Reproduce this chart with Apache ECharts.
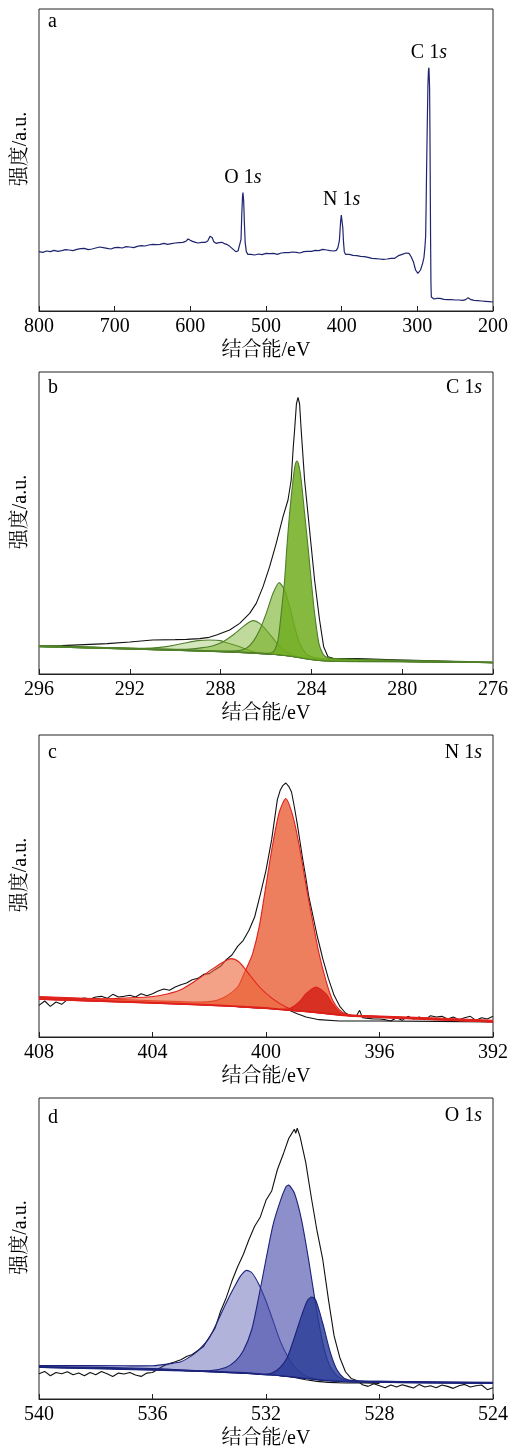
<!DOCTYPE html>
<html>
<head>
<meta charset="utf-8">
<script src="https://cdn.jsdelivr.net/npm/echarts/dist/echarts.min.js"></script>
<style>html,body{margin:0;padding:0;background:#fff;}#main{width:511px;height:1450px;}</style>
</head>
<body>
<div id="main"></div>
<script>
// ---------- DATA (intensity in arbitrary units, 0..906 spans the plot height) ----------
const xTicksA = [800, 200, 100];   // max, min, interval
const xTicksB = [296, 276, 4];
const xTicksC = [408, 392, 4];
const xTicksD = [540, 524, 4];

const surveyA = [
[800,178],[795,176],[790,180],[785,178],[780,182],[775,179],[770,181],[765,184],[760,183],[755,181],[750,185],[745,187],[740,188],[735,184],[730,186],[725,189],[720,192],[715,190],[710,188],[705,186],[700,190],[695,191],[690,189],[685,193],[680,192],[675,190],[670,194],[665,196],[660,195],[655,198],[650,200],[645,199],[640,200],[635,203],[630,200],[625,202],[620,204],[615,205],[610,206],[606,209],[603,216],[600,212],[597,209],[593,206],[590,204],[585,206],[580,206],[577,210],[574,224],[573,230],[571,220],[569,208],[566,203],[562,205],[558,206],[555,202],[552,200],[549,196],[546,190],[543,184],[540,178],[537,180],[535,186],[533,215],[532,290],[531,345],[530.5,355],[529.5,330],[528.5,260],[527.5,205],[526,178],[524,170],[520,170],[515,168],[510,171],[505,169],[500,173],[495,172],[490,173],[485,170],[480,174],[475,175],[470,175],[465,177],[460,176],[455,174],[450,178],[445,179],[440,179],[435,182],[430,181],[425,185],[420,183],[415,181],[410,180],[407,182],[405,190],[403,212],[401.5,265],[400.5,288],[400,290],[399.5,282],[398.5,250],[397.5,205],[396.5,178],[395,170],[390,170],[385,167],[380,166],[375,164],[370,163],[365,161],[360,158],[355,157],[350,156],[345,155],[340,156],[335,158],[330,158],[325,166],[320,170],[315,174],[311,173],[308,162],[305,146],[302.3,123],[299.3,113],[295.8,123],[293,143],[291.3,160],[290,190],[289,225],[288.3,330],[287.8,418],[287,540],[286,678],[285.3,722],[284.7,730],[284.2,700],[283.8,668],[283.4,560],[283,418],[282.5,218],[282,80],[281.5,42],[281,38],[278,36],[274,38],[270,38],[265,35],[260,34],[255,34],[250,33],[245,33],[240,32],[236,34],[233,40],[231,41],[229,34],[225,32],[220,31],[215,30],[210,29],[205,28],[200,27]
];
const surveyLabels = [['O 1','s',530.5,355],['N 1','s',400,290],['C 1','s',284.7,730]];

// C 1s: raw envelope [E, I]; components [E, top, base]
const c1sRaw = [
[296,83],[295,85],[294,88],[293,91],[292,96],[291,102],[290,103],[289.5,104],[288.92,106],[288.5,110],[288.18,117],[287.6,132],[287.16,152],[286.72,182],[286.43,212],[286.13,262],[285.84,322],[285.55,392],[285.25,472],[285.03,522],[284.89,582],[284.8,680],[284.74,732],[284.66,810],[284.59,830],[284.52,810],[284.45,732],[284.3,582],[284.08,432],[283.86,282],[283.64,162],[283.46,82],[283.27,52],[283.05,47],[282,46],[281,44],[280,42],[279,40],[278,38],[277,36],[276,34]
];
const c1sPeak1 = [
[296,84,82],[292,77,75],[291.04,78,73],[290.31,83,71.5],[289.58,93,70],[289,100,69],[288.48,102,68],[288,100,67],[287.74,94,66],[287.16,82,64.5],[286.57,67,62.5],[285.99,61,60],[285.5,59,58],[284.6,51,50.5],[283,39,38],[280,37.5,37],[276,34,34]
];
const c1sPeak2 = [
[296,84,82],[291,75,73],[289.5,74,70],[288.8,79,68.5],[288.33,85,67.5],[287.89,97,66.5],[287.45,117,65],[287.01,142,64],[286.75,155,63],[286.57,160,62.5],[286.28,152,61],[285.99,132,60],[285.69,107,59],[285.4,82,57],[285.11,67,55],[284.67,53,50.5],[284.3,48,46],[283.8,44,41.5],[283,41,38],[280,38,37],[276,34.5,34]
];
const c1sPeak3 = [
[296,85,82],[290,73,71],[288,69,67],[287.2,70,64.5],[286.87,77,63.5],[286.57,97,62.5],[286.28,132,61],[285.99,182,60],[285.69,242,59],[285.43,274,57.5],[285.18,252,55.5],[284.96,202,54],[284.74,142,51.5],[284.52,92,49],[284.23,60,46],[283.93,50,42.5],[283.6,46,40],[283,43,38],[280,39,37],[276,35,34]
];
const c1sPeak4 = [
[296,85,82],[290,73,71],[287,66,64],[286,62,60],[285.75,64,59],[285.62,72,58.5],[285.47,102,57.5],[285.33,182,56.5],[285.18,282,55.5],[285.08,382,55],[284.96,482,54],[284.81,582,52],[284.72,625,51],[284.64,639,50.5],[284.55,625,49.5],[284.45,582,48],[284.3,482,46],[284.15,382,44.5],[284.01,282,43],[283.86,182,42],[283.67,92,40.5],[283.49,60,39.5],[283.35,51,39],[283.1,47,38.5],[282,44,37.5],[280,41,37],[276,36,34]
];

// N 1s
const n1sRaw = [
[408,95],[407.8,108],[407.6,92],[407.4,105],[407.2,98],[407,112],[406.8,110],[406.6,114],[406.4,117],[406.2,114],[406,120],[405.8,122],[405.6,116],[405.4,128],[405.2,120],[405,122],[404.8,125],[404.6,120],[404.4,130],[404.2,124],[404,130],[403.8,138],[403.6,144],[403.4,140],[403.2,150],[403,157],[402.8,162],[402.6,172],[402.4,176],[402.2,188],[402,190],[401.8,202],[401.6,212],[401.4,232],[401.2,246],[401,272],[400.8,290],[400.6,320],[400.4,360],[400.2,428],[400,500],[399.8,592],[399.6,712],[399.5,740],[399.4,755],[399.3,762],[399.2,752],[399.1,735],[399,690],[398.9,640],[398.8,585],[398.7,530],[398.6,480],[398.5,425],[398.4,385],[398.3,345],[398.2,305],[398.1,270],[398,235],[397.8,175],[397.6,125],[397.4,92],[397.2,72],[397,62],[396.8,65],[396.7,80],[396.6,58],[396.4,56],[396.2,54],[396,54],[395.8,52],[395.6,48],[395.4,58],[395.2,50],[395,62],[394.8,54],[394.6,60],[394.4,52],[394.2,64],[394,60],[393.8,62],[393.6,54],[393.4,60],[393.2,52],[393,58],[392.8,62],[392.6,50],[392.4,58],[392.2,54],[392,62]
];
const n1sBackground = [
[401,91],[400,86],[399.5,84],[399.18,80],[398.9,70],[398.59,60],[398.13,52],[397.42,48],[396.72,48],[396,48],[394,47],[392,45]
];
const n1sPeak1 = [
[408,121,113],[405,112,105],[403,106,99],[402,106,95],[401.5,118,93],[401,150,91],[400.8,185,89.5],[400.64,215,88.5],[400.47,250,87.5],[400.23,335,86.5],[400,455,86],[399.77,575,84],[399.53,675,82],[399.3,715,81],[399.06,665,79],[398.83,575,77.5],[398.59,455,76],[398.36,350,74],[398.13,250,72.5],[397.89,170,70],[397.66,112,68],[397.42,82,66],[397.19,69,64.5],[396.8,65,62],[396,63,59],[394,57,52],[392,50,45]
];
const n1sPeak2 = [
[408,119,113],[406,114,107],[405.21,116,105],[404.16,120,102],[403.69,125,100.5],[403.05,140,98],[402.46,170,96.5],[401.87,205,94],[401.5,225,93],[401.23,235,92],[400.95,225,90.5],[400.7,200,89],[400.23,150,86.5],[399.77,115,84],[399.3,90,81],[398.95,79,78],[398.5,77,75],[397,65,62],[392,48,45]
];
const n1sPeak3 = [
[408,117,113],[402,97,95],[400,88,86],[399.5,84,82],[399.18,85,80],[398.83,105,77.5],[398.59,130,76],[398.24,150,73],[397.89,130,70],[397.66,100,68],[397.42,76,66],[397.19,67,64.5],[396.8,64,62],[396,61,59],[392,47,45]
];

// O 1s
const o1sRaw = [
[540,76],[539.8,83],[539.6,70],[539.4,80],[539.2,76],[539,82],[538.8,73],[538.6,78],[538.4,70],[538.2,80],[538,73],[537.8,83],[537.6,76],[537.4,68],[537.2,78],[537,75],[536.8,80],[536.6,72],[536.4,68],[536.2,78],[536,80],[535.8,90],[535.6,100],[535.4,107],[535.2,112],[535,118],[534.8,128],[534.6,134],[534.4,146],[534.2,158],[534,186],[533.8,212],[533.6,264],[533.4,305],[533.2,355],[533,398],[532.8,435],[532.6,480],[532.4,520],[532.2,548],[532,598],[531.8,626],[531.6,690],[531.4,735],[531.2,784],[531.1,798],[531,812],[530.95,800],[530.9,815],[530.8,790],[530.6,712],[530.4,605],[530.2,505],[530,420],[529.8,300],[529.6,190],[529.4,125],[529.2,82],[529,62],[528.8,56],[528.6,43],[528.4,38],[528.2,46],[528,40],[527.8,34],[527.6,42],[527.4,36],[527.2,43],[527,38],[526.8,33],[526.6,44],[526.4,36],[526.2,40],[526,34],[525.8,42],[525.6,38],[525.4,32],[525.2,40],[525,44],[524.8,36],[524.6,40],[524.4,42],[524.2,28],[524,34]
];
const o1sBackground = [
[531.5,70],[531,65],[530.6,58],[530.2,53],[529.8,50],[529.2,48],[528.5,48],[528,47]
];
const o1sPeak1 = [
[540,101,95],[537,100,91],[536,100,89],[535.4,106,87.5],[535,112,86],[534.7,126,85],[534.4,145,83.5],[534,184,82],[533.7,235,81],[533.4,290,79.5],[533.1,340,78.5],[532.9,370,77.5],[532.7,387,77],[532.5,380,76],[532.25,345,74],[532,295,73],[531.75,235,72],[531.5,175,70],[531.25,130,68],[531,97,66],[530.75,78,63],[530.5,66,61],[530.2,60,58],[530,58,56],[528,52,50],[524,48,47]
];
const o1sPeak2 = [
[540,98,95],[536,92,89],[534,85,82],[533.42,95,79.5],[533.07,115,78.5],[532.8,145,77.5],[532.5,210,76],[532.25,310,74],[532,420,73],[531.75,525,72],[531.5,595,70],[531.3,638,68.5],[531.2,644,68],[531,620,66],[530.75,540,63],[530.5,420,61],[530.25,285,58.5],[530,170,56],[529.78,105,54.5],[529.55,74,53.5],[529.31,60,52.5],[529,55,51],[528,53,50],[524,49,47]
];
const o1sPeak3 = [
[540,97,95],[534,84,82],[532.5,78,76],[532,75,73],[531.75,80,72],[531.5,95,70],[531.25,125,68],[531,185,66],[530.75,250,63],[530.55,295,61.5],[530.4,307,60],[530.25,298,58.5],[530,228,56],[529.75,145,54.5],[529.5,88,53],[529.25,63,52],[529,56,51],[528.75,54,50.5],[528,53,50],[524,50,47]
];

// ---------- CHART ----------
const FONT = "'Liberation Serif','Times New Roman','Noto Serif CJK SC','Noto Sans CJK SC',serif";
const YMAX = 906;
const grids = [
  {left:39, top:9, width:455, height:302},
  {left:39, top:372, width:455, height:302},
  {left:39, top:735, width:455, height:302},
  {left:39, top:1098, width:455, height:301}
].map(g => Object.assign(g, {show:true, borderColor:'#222', borderWidth:1, backgroundColor:'transparent'}));

function xAx(i, t) {
  return {
    gridIndex:i, type:'value', inverse:true, max:t[0], min:t[1], interval:t[2],
    axisLine:{show:true, lineStyle:{color:'#222', width:1}},
    axisTick:{show:true, inside:true, length:5, lineStyle:{color:'#222'}},
    axisLabel:{show:true, fontFamily:FONT, fontSize:20, color:'#000', margin:6, showMinLabel:true, showMaxLabel:true},
    splitLine:{show:false},
    name:'结合能/eV', nameLocation:'middle', nameGap:30,
    nameTextStyle:{fontFamily:FONT, fontSize:20, color:'#000'}
  };
}
function yAx(i) {
  return {
    gridIndex:i, type:'value', min:0, max:YMAX,
    axisLine:{show:false}, axisTick:{show:false}, axisLabel:{show:false}, splitLine:{show:false},
    name:'强度/a.u.', nameLocation:'middle', nameGap:8,
    nameTextStyle:{fontFamily:FONT, fontSize:20, color:'#000', padding:[0,0,0,22]}
  };
}
function rawLine(i, data, color, w) {
  return {type:'line', xAxisIndex:i, yAxisIndex:i, data:data, symbol:'none', silent:true,
          lineStyle:{color:color, width:w}, z:2, animation:false};
}
// fitted component: filled between its upper curve (col 1) and its background (col 2)
function comp(i, rows, fill, edge) {
  return {
    type:'custom', coordinateSystem:'cartesian2d', xAxisIndex:i, yAxisIndex:i,
    data:rows, encode:{x:0, y:[1, 2]}, silent:true, z:3, animation:false, clip:true,
    renderItem:function(params, api) {
      if (params.dataIndexInside !== 0) return;
      const n = params.dataInsideLength;
      const top = [], bot = [];
      for (let j = 0; j < n; j++) {
        top.push(api.coord([api.value(0, j), api.value(1, j)]));
        bot.push(api.coord([api.value(0, j), api.value(2, j)]));
      }
      const poly = top.concat(bot.slice().reverse());
      return {type:'group', children:[
        {type:'polygon', shape:{points:poly, smooth:0.25}, style:{fill:fill, stroke:null}},
        {type:'polyline', shape:{points:bot, smooth:0.25}, style:{stroke:edge, lineWidth:1, fill:null}},
        {type:'polyline', shape:{points:top, smooth:0.25}, style:{stroke:edge, lineWidth:1.1, fill:null}}
      ]};
    }
  };
}

const richLbl = {
  n:{fontFamily:FONT, fontSize:20, color:'#000'},
  i:{fontFamily:FONT, fontSize:20, color:'#000', fontStyle:'italic'}
};

const series = [];
// a
series.push(Object.assign(rawLine(0, surveyA, '#1f2470', 1.2), {
  markPoint:{
    symbol:'circle', symbolSize:1, silent:true, itemStyle:{color:'rgba(0,0,0,0)'},
    label:{show:true, position:'top', distance:4, rich:richLbl, formatter:p => '{n|' + p.data.t1 + '}{i|' + p.data.t2 + '}'},
    data: surveyLabels.map(l => ({coord:[l[2], l[3]], t1:l[0], t2:l[1]}))
  }
}));
// b
series.push(rawLine(1, c1sRaw, '#111', 1.1));
series.push(comp(1, c1sPeak1, 'rgba(112,173,30,0.30)', '#4f7f2a'));
series.push(comp(1, c1sPeak2, 'rgba(112,173,30,0.45)', '#4f7f2a'));
series.push(comp(1, c1sPeak3, 'rgba(112,173,30,0.58)', '#4f7f2a'));
series.push(comp(1, c1sPeak4, 'rgba(112,173,30,0.85)', '#4f7f2a'));
// c
series.push(rawLine(2, n1sRaw, '#111', 1.1));
series.push(rawLine(2, n1sBackground, '#111', 1.1));
series.push(comp(2, n1sPeak1, 'rgba(232,95,55,0.80)', '#e0201c'));
series.push(comp(2, n1sPeak2, 'rgba(235,100,55,0.60)', '#e0201c'));
series.push(comp(2, n1sPeak3, 'rgba(210,30,20,0.80)', '#e0201c'));
// d
series.push(rawLine(3, o1sRaw, '#111', 1.1));
series.push(rawLine(3, o1sBackground, '#111', 1.1));
series.push(comp(3, o1sPeak1, 'rgba(70,75,170,0.42)', '#1b237a'));
series.push(comp(3, o1sPeak2, 'rgba(70,75,170,0.62)', '#1b237a'));
series.push(comp(3, o1sPeak3, 'rgba(40,60,150,0.82)', '#1b237a'));

function ttl(text, pos) {
  return Object.assign({text:text, padding:0, itemGap:0,
    textStyle:{fontFamily:FONT, fontSize:20, fontWeight:'normal', color:'#000', lineHeight:20, rich:richLbl}}, pos);
}
const titles = [
  ttl('a', {left:48, top:12}),
  ttl('b', {left:48, top:378}),
  ttl('{n|C 1}{i|s}', {right:29, top:378}),
  ttl('c', {left:48, top:743}),
  ttl('{n|N 1}{i|s}', {right:29, top:743}),
  ttl('d', {left:48, top:1108}),
  ttl('{n|O 1}{i|s}', {right:29, top:1106})
];

const chart = echarts.init(document.getElementById('main'), null, {renderer:'canvas'});
chart.setOption({
  animation:false,
  backgroundColor:'#fff',
  title:titles,
  grid:grids,
  xAxis:[xAx(0, xTicksA), xAx(1, xTicksB), xAx(2, xTicksC), xAx(3, xTicksD)],
  yAxis:[yAx(0), yAx(1), yAx(2), yAx(3)],
  series:series
});
</script>
</body>
</html>
